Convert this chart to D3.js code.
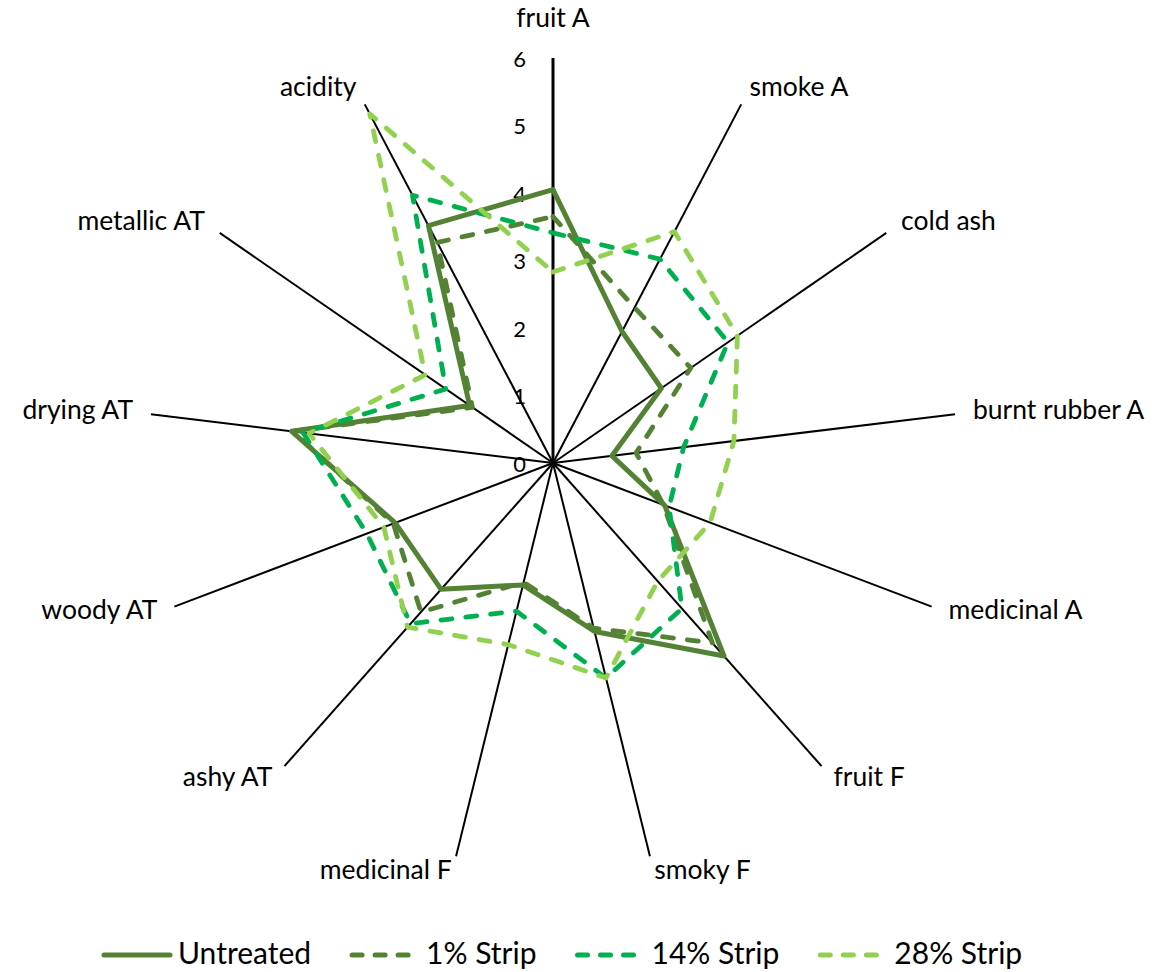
<!DOCTYPE html>
<html>
<head>
<meta charset="utf-8">
<script src="https://cdn.jsdelivr.net/npm/d3@7"></script>
<style>
  body { margin: 0; background: #fff; }
  text { font-family: Lato, "Open Sans", sans-serif; fill: #000; }
</style>
</head>
<body>
<svg id="chart"></svg>
<script>
var width = 1173, height = 972;

// data
var categories = ["fruit A", "smoke A", "cold ash", "burnt rubber A", "medicinal A", "fruit F",
                  "smoky F", "medicinal F", "ashy AT", "woody AT", "drying AT", "metallic AT", "acidity"];
var untreated = [4.05, 2.2, 1.95, 0.88, 1.77, 3.82, 2.57, 1.86, 2.5, 2.5, 3.9, 1.5, 3.97];
var strip1    = [3.65, 2.6, 2.48, 1.24, 1.75, 3.56, 2.52, 1.82, 2.95, 2.53, 3.88, 1.45, 3.69];
var strip14   = [3.41, 3.41, 3.15, 1.95, 1.84, 2.88, 3.28, 2.26, 3.18, 2.95, 3.73, 1.93, 4.48];
var strip28   = [2.83, 3.87, 3.32, 2.7, 2.49, 2.34, 3.28, 2.77, 3.25, 2.68, 3.64, 2.3, 5.84];
var seriesNames = ["Untreated", "1% Strip", "14% Strip", "28% Strip"];
var tickValues = [0, 1, 2, 3, 4, 5, 6];

var series = [
  {name: seriesNames[0], values: untreated, color: "#548235", dash: null},
  {name: seriesNames[1], values: strip1,    color: "#548235", dash: "11,14"},
  {name: seriesNames[2], values: strip14,   color: "#00B050", dash: "11,14"},
  {name: seriesNames[3], values: strip28,   color: "#92D050", dash: "11,14"}
];

var cx = 553, cy = 463, R = 405;

var svg = d3.select("#chart")
    .attr("width", width)
    .attr("height", height);

var r = d3.scaleLinear().domain([0, 6]).range([0, R]);
var angle = d3.scaleLinear().domain([0, categories.length]).range([0, 2 * Math.PI]);

var g = svg.append("g")
    .attr("transform", "translate(" + cx + "," + cy + ")");

// spokes
g.append("g").selectAll("line")
    .data(categories)
    .enter().append("line")
    .attr("x1", 0).attr("y1", 0)
    .attr("x2", function(d, i) { return r(6) * Math.sin(angle(i)); })
    .attr("y2", function(d, i) { return -r(6) * Math.cos(angle(i)); })
    .attr("stroke", "#000")
    .attr("stroke-width", function(d, i) { return i === 0 ? 3 : 2; });

// value labels on the top spoke
g.append("g").selectAll("text")
    .data(tickValues)
    .enter().append("text")
    .attr("x", -27)
    .attr("y", function(d) { return -r(d) + 3; })
    .attr("text-anchor", "end")
    .attr("dominant-baseline", "middle")
    .attr("font-size", "22px")
    .text(function(d) { return d; });

// category labels
g.append("g").selectAll("text")
    .data(categories)
    .enter().append("text")
    .each(function(d, i) {
        var s = Math.sin(angle(i)), c = Math.cos(angle(i));
        var x = r(6) * s + s * 18;
        var y = -r(6) * c - c * 17;
        if (i === 0) y -= 21;
        var anchor = Math.abs(s) < 0.1 ? "middle" : (s > 0 ? "start" : "end");
        d3.select(this)
            .attr("x", x)
            .attr("y", y)
            .attr("text-anchor", anchor)
            .attr("dominant-baseline", "middle")
            .attr("font-size", "26.5px")
            .text(d);
    });

// series
var line = d3.lineRadial()
    .angle(function(d, i) { return angle(i); })
    .radius(function(d) { return r(d); })
    .curve(d3.curveLinearClosed);

g.append("g").selectAll("path")
    .data(series)
    .enter().append("path")
    .attr("d", function(d) { return line(d.values); })
    .attr("fill", "none")
    .attr("stroke", function(d) { return d.color; })
    .attr("stroke-width", function(d) { return d.dash ? 4.8 : 5; })
    .attr("stroke-dasharray", function(d) { return d.dash; })
    .attr("stroke-linecap", "round")
    .attr("stroke-linejoin", "round");

// legend
var legend = svg.append("g").attr("transform", "translate(0,955)");
var lx = 104;
series.forEach(function(s) {
    legend.append("line")
        .attr("x1", lx).attr("x2", lx + 66)
        .attr("y1", 0).attr("y2", 0)
        .attr("stroke", s.color)
        .attr("stroke-width", 5)
        .attr("stroke-dasharray", s.dash ? "10,13" : null)
        .attr("stroke-linecap", "round");
    var t = legend.append("text")
        .attr("x", lx + 74)
        .attr("y", 1)
        .attr("dominant-baseline", "middle")
        .attr("font-size", "30px")
        .text(s.name);
    lx = lx + 74 + t.node().getComputedTextLength() + 41;
});
</script>
</body>
</html>
